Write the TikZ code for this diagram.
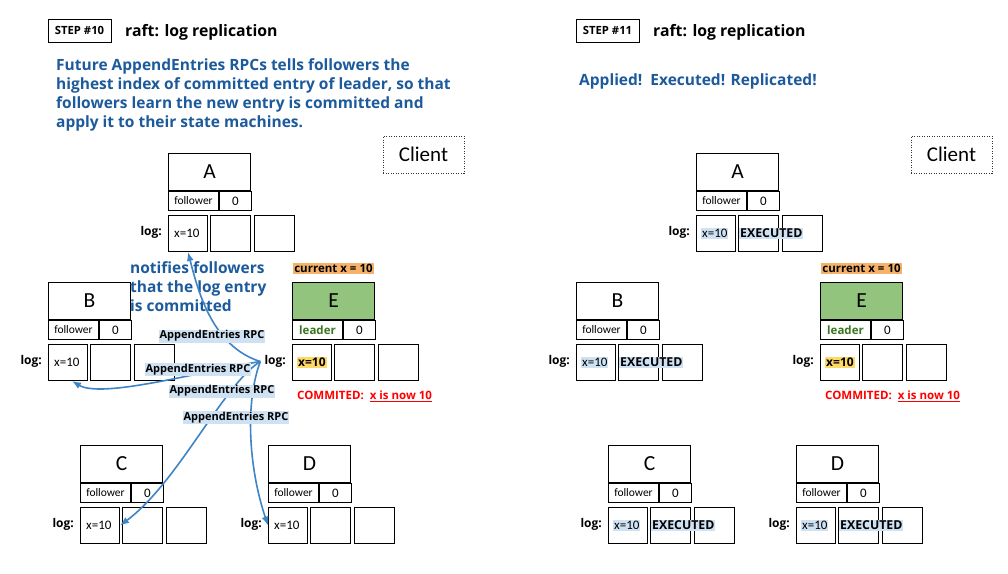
\documentclass[tikz,border=0pt]{standalone}
\usepackage{fontspec}
\setmainfont{Open Sans}
\newfontfamily\calib{Carlito}
\usetikzlibrary{arrows.meta,positioning,calc}

\definecolor{notebl}{HTML}{1C5A9C}
\definecolor{rpcbl}{HTML}{3D85C6}
\definecolor{rpcfill}{HTML}{CFE2F3}
\definecolor{curor}{HTML}{F6B26B}
\definecolor{leadgr}{HTML}{93C47D}
\definecolor{leadtx}{HTML}{38761D}
\definecolor{hiyel}{HTML}{FFD966}

% one raft server: name box, role/term row, three log slots
\newcommand{\server}[6][]{%
  \node[namebox, #1] (#2) at (#3,#4) {#5};
  \node[cell, minimum width=50pt] (#2-role) at (#2.south west) {#6};
  \node[cell, minimum width=32pt, font=\calib\fontsize{13}{13}\selectfont] (#2-term) at (#2-role.north east) {0};
  \node[logcell, minimum width=39pt] (#2-l1) at ($(#2-role.south west)+(0,4)$) {};
  \node[logcell] (#2-l2) at ($(#2-l1.north east)+(2,0)$) {};
  \node[logcell] (#2-l3) at ($(#2-l2.north east)+(3,0)$) {};
  \node[loglbl] (#2-log) at ($(#2-l1.west)+(-6,-1)$) {log:};
}

\begin{document}
\begin{tikzpicture}[
    x=1pt, y=-1pt,
    namebox/.style={draw, line width=1pt, anchor=north west, minimum width=82pt, minimum height=37pt, inner sep=0pt, font=\calib\fontsize{21.5}{21.5}\selectfont},
    cell/.style={draw, line width=1pt, anchor=north west, minimum height=19pt, inner sep=0pt, font=\calib\fontsize{11.5}{11.5}\selectfont},
    logcell/.style={draw, line width=1pt, anchor=north west, minimum width=40pt, minimum height=36pt, inner sep=0pt},
    loglbl/.style={anchor=east, inner sep=0pt, font=\bfseries\fontsize{12}{12}\selectfont},
    entry/.style={anchor=west, inner sep=1pt, font=\calib\fontsize{13}{13}\selectfont},
    hientry/.style={entry, fill=rpcfill},
    leadentry/.style={anchor=west, inner sep=1pt, fill=hiyel, font=\bfseries\fontsize{12}{12}\selectfont},
    execd/.style={anchor=west, inner sep=1pt, fill=rpcfill, font=\bfseries\fontsize{12.3}{12.3}\selectfont},
    rpc/.style={fill=rpcfill, inner sep=1pt, font=\bfseries\fontsize{11}{11}\selectfont},
    sendarrow/.style={draw=rpcbl, line width=1.6pt, -{Latex[length=9pt,width=7pt]}},
    note/.style={anchor=north west, align=left, inner sep=0pt, text=notebl, font=\bfseries\fontsize{15.5}{19}\selectfont},
    stepbox/.style={draw, line width=1pt, minimum width=63pt, minimum height=23pt, inner sep=0pt, font=\bfseries\fontsize{11.3}{11.3}\selectfont},
    title/.style={anchor=base west, inner sep=0pt, font=\bfseries\fontsize{15.8}{15.8}\selectfont},
    clientbox/.style={draw=black!80, line width=0.8pt, dash pattern=on 1pt off 1.5pt, minimum width=81pt, minimum height=37pt, inner sep=0pt, font=\calib\fontsize{21}{21}\selectfont},
    current/.style={fill=curor, inner sep=1pt, font=\bfseries\fontsize{11.5}{11.5}\selectfont},
    commit/.style={anchor=west, inner sep=0pt, text=red, font=\bfseries\fontsize{11.5}{11.5}\selectfont}
]
\path[use as bounding box, fill=white] (0,0) rectangle (1008,573);

% ---------- step 10 ----------
\node[stepbox] (step10) at (79.5,30.5) {STEP \#10};
\node[title] (title10) at (125,36) {raft: log replication};
\node[note] (note10) at (56,58) {Future AppendEntries RPCs tells followers the\\highest index of committed entry of leader, so that\\followers learn the new entry is committed and\\apply it to their state machines.};
\node[clientbox] (client10) at (423.5,154.5) {Client};

\server{a10}{168}{153}{A}{follower}
\server{b10}{48}{282}{B}{follower}
\server[fill=leadgr]{e10}{292}{282}{E}{\normalfont\bfseries\fontsize{11.5}{11.5}\selectfont\textcolor{leadtx}{leader}}
\server{c10}{80}{445}{C}{follower}
\server{d10}{268}{445}{D}{follower}

\node[entry] at ($(a10-l1.west)+(5,0)$) {x=10};
\node[entry] at ($(b10-l1.west)+(5,0)$) {x=10};
\node[entry] at ($(c10-l1.west)+(5,0)$) {x=10};
\node[entry] at ($(d10-l1.west)+(5,0)$) {x=10};
\node[leadentry] at ($(e10-l1.west)+(5,0)$) {x=10};
\node[current] (e10-cur) at ($(e10.north)+(0,-13.5)$) {current x = 10};
\node[commit] (e10-commit) at ($(e10-l1.south west)+(5,15)$) {COMMITED:\ \ \underline{x is now 10}};

\node[note, text=notebl] (notify10) at (130,261) {notifies followers\\that the log entry\\is committed};

\coordinate (e10-send) at ($(e10-log.west)+(-4,0)$);
\draw[sendarrow] (e10-send) .. controls +(-48,-15) and +(10,39) .. (a10-l1.south);
\draw[sendarrow] (e10-send) .. controls +(-60,10) and +(30,18) .. ($(b10-l1.south)+(4,0)$);
\draw[sendarrow] (e10-send) .. controls +(-37,23) and +(58,-43) .. (c10-l1.east);
\draw[sendarrow] (e10-send) .. controls +(-15,40) and +(-20,-60) .. (d10-l1.west);

\node[rpc] (rpc_a) at (212,336) {AppendEntries RPC};
\node[rpc] (rpc_b) at (198,369.5) {AppendEntries RPC};
\node[rpc] (rpc_c) at (222,391) {AppendEntries RPC};
\node[rpc] (rpc_d) at (236,417.5) {AppendEntries RPC};

% ---------- step 11 ----------
\node[stepbox] (step11) at (607.5,30.5) {STEP \#11};
\node[title] (title11) at (653,36) {raft: log replication};
\node[note] (note11) at (579,74) {Applied!\ \ Executed! Replicated!};
\node[clientbox] (client11) at (951.5,154.5) {Client};

\server{a11}{696}{153}{A}{follower}
\server{b11}{576}{282}{B}{follower}
\server[fill=leadgr]{e11}{820}{282}{E}{\normalfont\bfseries\fontsize{11.5}{11.5}\selectfont\textcolor{leadtx}{leader}}
\server{c11}{608}{445}{C}{follower}
\server{d11}{796}{445}{D}{follower}

\foreach \s in {a11,b11,c11,d11}{
  \node[hientry] at ($(\s-l1.west)+(5,0)$) {x=10};
  \node[execd] at ($(\s-l2.west)+(1,0)$) {EXECUTED};
}
\node[leadentry] at ($(e11-l1.west)+(5,0)$) {x=10};
\node[current] (e11-cur) at ($(e11.north)+(0,-13.5)$) {current x = 10};
\node[commit] (e11-commit) at ($(e11-l1.south west)+(5,15)$) {COMMITED:\ \ \underline{x is now 10}};

\end{tikzpicture}
\end{document}
